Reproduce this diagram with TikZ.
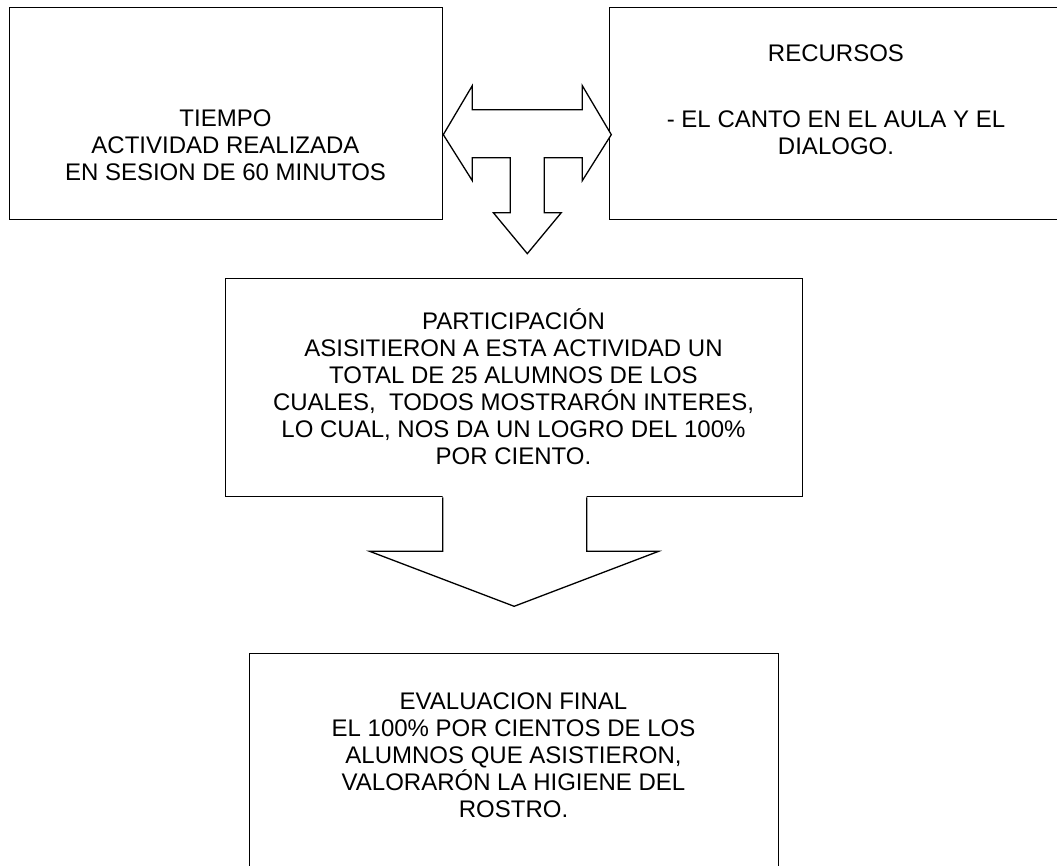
\documentclass[tikz,border=0pt]{standalone}
\usepackage{fontspec}
\setmainfont{Liberation Sans}
\usepackage{tikz}

\newcommand{\linetop}{\rule{0pt}{20pt}}

\begin{document}
\begin{tikzpicture}[x=1pt,y=-1pt,
  box/.style={draw=black,line width=1.3pt,rectangle,inner sep=0pt,anchor=north west},
  txt/.style={align=center,anchor=north,inner sep=0pt,font=\fontsize{24}{27}\selectfont},
  blockarrow/.style={draw=black,line width=1.3pt,line join=miter}]
\useasboundingbox (0,0) rectangle (1057,865);
\clip (0,0) rectangle (1057,865);

    % boxes
    \node[box,minimum width=433pt,minimum height=212pt] (tiempo) at (9,7) {};
    \node[box,minimum width=454pt,minimum height=212pt] (recursos) at (609,7) {};
    \node[box,minimum width=577pt,minimum height=218pt] (participacion) at (225,278) {};
    \node[box,minimum width=529pt,minimum height=240pt] (evaluacion) at (249,653) {};

    % texts
    \node[txt] (tiempotxt) at (225.5,106)
        {\linetop TIEMPO\\ACTIVIDAD REALIZADA\\EN SESION DE 60 MINUTOS};
    \node[txt] (recursostxt) at (836,41)
        {\linetop RECURSOS\\[39pt]- EL CANTO EN EL AULA Y EL\\DIALOGO.};
    \node[txt] (participaciontxt) at (513.5,308)
        {\linetop PARTICIPACIÓN\\ASISITIERON A ESTA ACTIVIDAD UN\\TOTAL DE 25 ALUMNOS DE LOS\\
         CUALES,~ TODOS MOSTRARÓN INTERES,\\LO CUAL, NOS DA UN LOGRO DEL 100\%\\POR CIENTO.};
    \node[txt] (evaluaciontxt) at (513.5,689)
        {\linetop EVALUACION FINAL\\EL 100\% POR CIENTOS DE LOS\\ALUMNOS QUE ASISTIERON,\\
         VALORARÓN LA HIGIENE DEL\\ROSTRO.};

    % arrow between the top boxes, pointing down
    \begin{scope}[shift={(tiempo.east)}]
    \draw[blockarrow,fill=white] (0,21) -- (29,-28) -- (29,-4) -- (139,-4) -- (139,-28)
        -- (168,21) -- (139,67) -- (139,44) -- (101,44) -- (101,99) -- (118,99)
        -- (84,140) -- (50,99) -- (67,99) -- (67,44) -- (29,44) -- (29,67) -- cycle;
    \end{scope}

    % arrow down to the last box
    \begin{scope}[shift={(participacion.south)}]
    \fill[white] (-71.5,-2) -- (-71.5,54) -- (-144.5,54) -- (0,109) -- (144.5,54)
        -- (72.5,54) -- (72.5,-2) -- cycle;
    \draw[blockarrow] (-71.5,0) -- (-71.5,54) -- (-144.5,54) -- (0,109) -- (144.5,54)
        -- (72.5,54) -- (72.5,0);
    \end{scope}

\end{tikzpicture}
\end{document}
